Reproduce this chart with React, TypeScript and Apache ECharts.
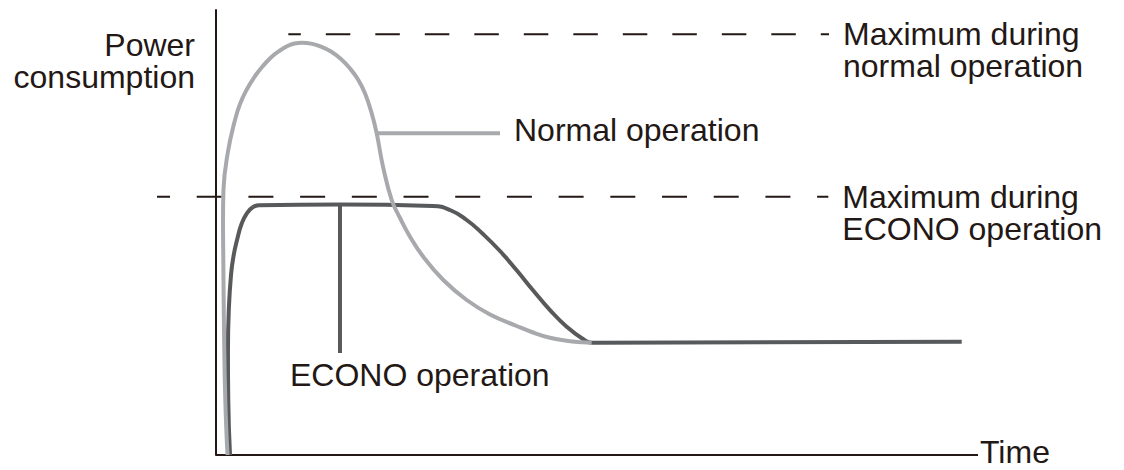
import React, { useEffect, useRef } from "react";
import * as echarts from "echarts";

// ---- data (time units, power units 0..100) ----
const normalCurve: [number, number][] = [
  [1.51, 0], [1.22, 12.36], [1.05, 28.09], [0.96, 43.82], [0.92, 52.81],
  [0.98, 59.55], [1.54, 67.87], [2.49, 75.28], [3.15, 78.88], [4.0, 82.02],
  [4.99, 84.83], [6.1, 87.3], [7.28, 89.44], [8.4, 90.9], [9.38, 91.91],
  [10.3, 92.47], [11.29, 92.65], [12.47, 92.45], [13.78, 91.78], [15.09, 90.67],
  [16.4, 88.99], [17.59, 86.85], [18.64, 84.38], [19.55, 81.28], [20.43, 76.79],
  [21.09, 72.29], [21.92, 64.79], [23.06, 57.3], [24.15, 53.26], [25.46, 49.06],
  [27.2, 44.56], [29.83, 39.33], [32.9, 34.83], [35.96, 31.57], [39.46, 28.99],
  [41.6, 27.53], [43.83, 26.34], [46.02, 25.66], [48.16, 25.33], [49.3, 25.24],
];

const econoCurve: [number, number][] = [
  [1.84, 0], [1.61, 12.36], [1.57, 23.6], [1.68, 32.58], [1.97, 40.45],
  [2.3, 44.72], [2.76, 48.31], [3.35, 51.91], [4.07, 54.38], [4.86, 55.73],
  [5.64, 56.13], [16.27, 56.29], [28.48, 55.96], [30.71, 55.06], [32.9, 52.81],
  [35.04, 49.66], [37.27, 45.84], [39.46, 41.51], [41.6, 37.03], [43.83, 32.58],
  [46.02, 28.83], [48.16, 26.07], [49.3, 25.24], [97.86, 25.44],
];

const timeAxisLine: [number, number][] = [[0, 0], [100, 0]];

const maxNormal = 94.54;
const maxEcono = 58.04;
const maxNormalSpan: [number, number] = [9.49, 80.45];
const maxEconoSpan: [number, number] = [-7.74, 80.36];

const normalLeader: [number, number][] = [[21.09, 72.29], [37.27, 72.29]];
const econoLeader: [number, number][] = [[16.27, 56.29], [16.27, 22.92]];

const yAxisTitle = "Power\nconsumption";
const xAxisTitle = "Time";
const maxNormalText = "Maximum during\nnormal operation";
const maxEconoText = "Maximum during\nECONO operation";
const normalText = "Normal operation";
const econoText = "ECONO operation";

const INK = "#231815";
const LIGHT = "#a7a9ac";
const DARK = "#58595b";
const FONT = '"Liberation Sans", Arial, Helvetica, sans-serif';

export default function App() {
  const ref = useRef<HTMLDivElement>(null);

  useEffect(() => {
    if (!ref.current) return;
    const chart = echarts.init(ref.current, null, { renderer: "svg" });

    const option: any = {
      animation: false,
      backgroundColor: "#ffffff",
      grid: { left: 155.04, right: 146, top: 10, bottom: 15, outerBoundsMode: "none" },
      xAxis: {
        type: "value",
        min: -8,
        max: 100,
        axisLine: { show: false },
        axisTick: { show: false },
        axisLabel: { show: false },
        splitLine: { show: false },
      },
      yAxis: {
        type: "value",
        min: 0,
        max: 100,
        axisLine: { show: true, onZero: true, lineStyle: { color: INK, width: 2 } },
        axisTick: { show: false },
        axisLabel: { show: false },
        splitLine: { show: false },
      },
      series: [
        {
          type: "line",
          silent: true,
          symbol: "none",
          data: timeAxisLine,
          lineStyle: { color: INK, width: 2 },
          z: 1,
        },
        {
          type: "line",
          silent: true,
          symbol: "none",
          data: [[maxNormalSpan[0], maxNormal], [maxNormalSpan[1], maxNormal]],
          lineStyle: { color: INK, width: 2, type: [24.5, 25], dashOffset: 11.8 },
          z: 1,
        },
        {
          type: "line",
          silent: true,
          symbol: "none",
          data: [[maxEconoSpan[0], maxEcono], [maxEconoSpan[1], maxEcono]],
          lineStyle: { color: INK, width: 2, type: [25, 26.7], dashOffset: 12 },
          z: 1,
        },
        {
          type: "line",
          silent: true,
          symbol: "none",
          data: econoLeader,
          lineStyle: { color: DARK, width: 4 },
          z: 2,
        },
        {
          type: "line",
          silent: true,
          symbol: "none",
          data: normalLeader,
          lineStyle: { color: LIGHT, width: 4 },
          z: 2,
        },
        {
          type: "line",
          silent: true,
          symbol: "none",
          smooth: 0.5,
          data: econoCurve,
          lineStyle: { color: DARK, width: 4 },
          z: 3,
        },
        {
          type: "line",
          silent: true,
          symbol: "none",
          smooth: 0.45,
          data: normalCurve,
          lineStyle: { color: LIGHT, width: 4 },
          z: 4,
        },
      ],
    };
    chart.setOption(option);

    const px = (p: [number, number]) => chart.convertToPixel({ gridIndex: 0 }, p) as number[];
    const topEnd = px([maxNormalSpan[1], maxNormal]);
    const lowEnd = px([maxEconoSpan[1], maxEcono]);
    const nEnd = px(normalLeader[1]);
    const eEnd = px(econoLeader[1]);
    const axisTop = px([0, 100]);
    const axisEnd = px(timeAxisLine[1]);

    const txt = (text: string, x: number, y: number, align: string) => ({
      type: "text",
      x,
      y,
      silent: true,
      style: {
        text,
        fill: INK,
        fontSize: 32,
        fontFamily: FONT,
        align,
        verticalAlign: "middle",
        lineHeight: 32,
      },
    });

    chart.setOption({
      graphic: [
        txt(maxNormalText, topEnd[0] + 14, topEnd[1] + 16, "left"),
        txt(maxEconoText, lowEnd[0] + 14, lowEnd[1] + 16, "left"),
        txt(normalText, nEnd[0] + 14, nEnd[1] - 3, "left"),
        txt(econoText, eEnd[0] - 50, eEnd[1] + 22, "left"),
        txt(yAxisTitle, axisTop[0] - 21, axisTop[1] + 51, "right"),
        txt(xAxisTitle, axisEnd[0] + 2, axisEnd[1] - 3, "left"),
      ],
    });

    return () => chart.dispose();
  }, []);

  return (
    <div
      ref={ref}
      style={{ position: "fixed", left: 0, top: 0, width: 1124, height: 470 }}
    />
  );
}
